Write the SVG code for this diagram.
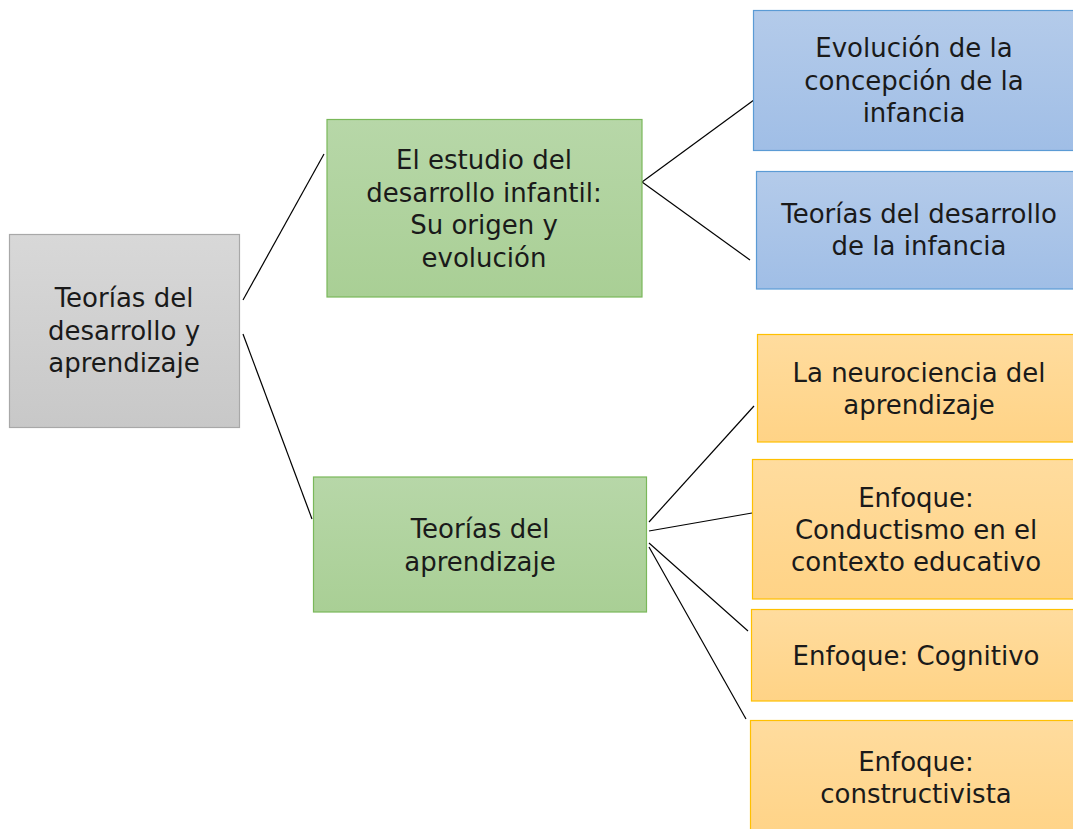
<svg xmlns="http://www.w3.org/2000/svg" width="1073" height="829" viewBox="0 0 1073 829">
<defs>
<linearGradient id="gGray" x1="0" y1="0" x2="0" y2="1"><stop offset="0" stop-color="#d8d8d8"/><stop offset="1" stop-color="#c8c8c8"/></linearGradient>
<linearGradient id="gGreen" x1="0" y1="0" x2="0" y2="1"><stop offset="0" stop-color="#b7d7a8"/><stop offset="1" stop-color="#a9cf95"/></linearGradient>
<linearGradient id="gBlue" x1="0" y1="0" x2="0" y2="1"><stop offset="0" stop-color="#b4cbea"/><stop offset="1" stop-color="#a0bee6"/></linearGradient>
<linearGradient id="gOrange" x1="0" y1="0" x2="0" y2="1"><stop offset="0" stop-color="#ffdc9e"/><stop offset="1" stop-color="#ffd386"/></linearGradient>
</defs>
<style>
.gray{fill:url(#gGray);stroke:#a8a8a8;stroke-width:1.2}
.green{fill:url(#gGreen);stroke:#7ab85a;stroke-width:1.2}
.blue{fill:url(#gBlue);stroke:#5b9bd5;stroke-width:1.2}
.orange{fill:url(#gOrange);stroke:#ffc000;stroke-width:1.2}
text{font-family:"DejaVu Sans","Liberation Sans",sans-serif;font-size:26px;fill:#1a1a1a;text-anchor:middle;dominant-baseline:central}
.conn line{stroke:#000;stroke-width:1.2}
</style>
<rect width="1073" height="829" fill="#fff"/>
<g class="conn" id="connectors">
<line x1="243" y1="300" x2="324" y2="154"/>
<line x1="243" y1="334" x2="312" y2="519"/>
<line x1="642" y1="182" x2="758" y2="97"/>
<line x1="642" y1="182" x2="750" y2="260"/>
<line x1="649" y1="522" x2="754" y2="406"/>
<line x1="649" y1="531" x2="752" y2="513"/>
<line x1="649" y1="543" x2="748" y2="631"/>
<line x1="649" y1="547" x2="746" y2="719"/>
</g>
<g id="root">
<rect class="gray" x="9.5" y="234.5" width="230" height="193"/>
<text x="124" y="298">Teorías del</text>
<text x="124" y="331">desarrollo y</text>
<text x="124" y="363">aprendizaje</text>
</g>
<g id="estudio">
<rect class="green" x="327" y="119.5" width="315" height="177.5"/>
<text x="484" y="160">El estudio del</text>
<text x="484" y="193">desarrollo infantil:</text>
<text x="484" y="225">Su origen y</text>
<text x="484" y="258">evolución</text>
</g>
<g id="teorias-aprendizaje">
<rect class="green" x="313.5" y="477" width="333" height="135"/>
<text x="480" y="529">Teorías del</text>
<text x="480" y="562">aprendizaje</text>
</g>
<g id="evolucion">
<rect class="blue" x="753.5" y="10.5" width="325" height="140"/>
<text x="914" y="48">Evolución de la</text>
<text x="914" y="81">concepción de la</text>
<text x="914" y="113">infancia</text>
</g>
<g id="teorias-infancia">
<rect class="blue" x="756.5" y="171.5" width="322" height="117.5"/>
<text x="919" y="214">Teorías del desarrollo</text>
<text x="919" y="246">de la infancia</text>
</g>
<g id="neurociencia">
<rect class="orange" x="757.5" y="334.5" width="321" height="107.5"/>
<text x="919" y="373">La neurociencia del</text>
<text x="919" y="405">aprendizaje</text>
</g>
<g id="conductismo">
<rect class="orange" x="752.5" y="459.5" width="326" height="139.5"/>
<text x="916" y="498">Enfoque:</text>
<text x="916" y="530">Conductismo en el</text>
<text x="916" y="562">contexto educativo</text>
</g>
<g id="cognitivo">
<rect class="orange" x="751.5" y="609.5" width="327" height="91.5"/>
<text x="916" y="656">Enfoque: Cognitivo</text>
</g>
<g id="constructivista">
<rect class="orange" x="750.5" y="720.5" width="328" height="120"/>
<text x="916" y="762">Enfoque:</text>
<text x="916" y="794">constructivista</text>
</g>
</svg>
